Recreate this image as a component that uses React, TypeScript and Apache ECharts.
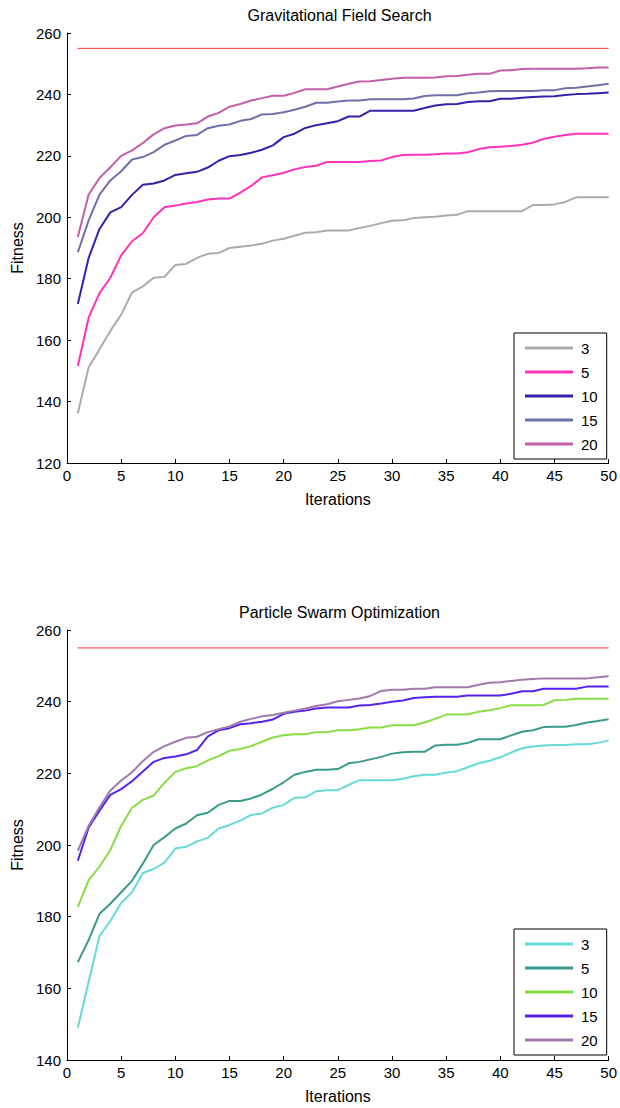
import React, { useEffect, useRef } from "react";
import * as echarts from "echarts";

const FONT = "'Liberation Sans', Arial, sans-serif";

const swarmSizes = ["3", "5", "10", "15", "20"];
const optimum = 255;
const iterations = Array.from({ length: 50 }, (_, i) => i + 1);

// Gravitational Field Search
const gfs3 = [136.2, 151.2, 157, 163, 168.3, 175.5, 177.5, 180.3, 180.6, 184.5, 184.8, 186.8, 188.1, 188.4, 190, 190.4, 190.8, 191.4, 192.4, 193, 194, 195, 195.1, 195.7, 195.7, 195.7, 196.5, 197.2, 198.1, 198.9, 199, 199.8, 200, 200.2, 200.6, 200.8, 202, 202, 202, 202, 202, 202, 204, 204, 204.2, 205, 206.5, 206.5, 206.5, 206.5];
const gfs5 = [151.6, 167.4, 175.3, 180.3, 187.6, 192.2, 194.8, 200, 203.3, 203.8, 204.5, 205, 205.8, 206.1, 206.1, 208, 210.2, 213, 213.7, 214.5, 215.6, 216.4, 216.8, 218, 218, 218, 218, 218.3, 218.5, 219.6, 220.3, 220.4, 220.4, 220.5, 220.8, 220.8, 221.2, 222.2, 222.8, 223, 223.2, 223.6, 224.3, 225.5, 226.2, 226.8, 227.2, 227.2, 227.2, 227.2];
const gfs10 = [171.8, 186.8, 196.2, 201.6, 203.3, 207.3, 210.6, 211, 212, 213.8, 214.3, 214.8, 216.2, 218.4, 219.9, 220.3, 221, 222, 223.4, 226.1, 227.2, 229.1, 230, 230.6, 231.3, 232.8, 232.8, 234.7, 234.7, 234.7, 234.7, 234.7, 235.6, 236.4, 236.8, 236.9, 237.5, 237.8, 237.8, 238.6, 238.6, 238.9, 239.2, 239.3, 239.4, 239.8, 240.1, 240.2, 240.4, 240.6];
const gfs15 = [188.6, 199, 207.4, 212, 215, 218.8, 219.6, 221.2, 223.6, 225, 226.5, 226.8, 229, 229.8, 230.2, 231.4, 232, 233.5, 233.6, 234.2, 235, 236, 237.3, 237.3, 237.7, 238, 238, 238.4, 238.4, 238.4, 238.4, 238.7, 239.5, 239.7, 239.7, 239.7, 240.4, 240.6, 241, 241.1, 241.1, 241.1, 241.1, 241.4, 241.4, 242, 242.2, 242.6, 243, 243.5];
const gfs20 = [193.6, 207.4, 212.8, 216.3, 220, 221.8, 224.2, 227, 229, 229.9, 230.2, 230.6, 232.8, 234, 236, 236.9, 238, 238.8, 239.6, 239.6, 240.5, 241.7, 241.7, 241.7, 242.6, 243.5, 244.2, 244.3, 244.7, 245.1, 245.4, 245.4, 245.4, 245.5, 245.9, 246, 246.4, 246.7, 246.7, 247.8, 247.9, 248.3, 248.4, 248.4, 248.4, 248.4, 248.4, 248.5, 248.8, 248.8];

// Particle Swarm Optimization
const pso3 = [149, 161.9, 174.6, 178.8, 183.8, 186.8, 192.2, 193.3, 195.1, 199, 199.5, 201, 202, 204.6, 205.6, 206.8, 208.4, 208.8, 210.4, 211.2, 213.2, 213.3, 215, 215.3, 215.3, 216.8, 218.1, 218.1, 218.1, 218.1, 218.5, 219.2, 219.6, 219.6, 220.2, 220.6, 221.7, 222.8, 223.5, 224.5, 225.8, 227, 227.5, 227.8, 227.9, 227.9, 228.1, 228.1, 228.5, 229.2];
const pso5 = [167.3, 173.5, 180.8, 183.6, 186.8, 190, 194.8, 200, 202.2, 204.6, 206, 208.3, 209, 211.2, 212.3, 212.3, 213, 214.1, 215.7, 217.5, 219.6, 220.4, 221, 221, 221.2, 222.8, 223.2, 223.9, 224.6, 225.5, 225.9, 226, 226, 227.8, 228, 228, 228.5, 229.5, 229.5, 229.5, 230.6, 231.6, 232, 232.9, 233, 233, 233.5, 234.2, 234.6, 235.1];
const pso10 = [182.7, 190.2, 194, 198.6, 205.3, 210.4, 212.6, 213.8, 217.4, 220.4, 221.4, 222, 223.6, 224.8, 226.3, 226.8, 227.6, 228.8, 230, 230.6, 230.9, 230.9, 231.5, 231.5, 232, 232, 232.3, 232.8, 232.8, 233.4, 233.4, 233.4, 234.2, 235.2, 236.4, 236.4, 236.5, 237.2, 237.6, 238.2, 239, 239, 239, 239.1, 240.4, 240.5, 240.8, 240.8, 240.8, 240.8];
const pso15 = [195.6, 204.9, 209.6, 214, 215.6, 217.8, 220.5, 223.2, 224.3, 224.7, 225.3, 226.5, 230.3, 232, 232.6, 233.7, 234, 234.4, 235, 236.6, 237.2, 237.5, 238.1, 238.4, 238.4, 238.4, 238.9, 239.1, 239.5, 240, 240.3, 241, 241.2, 241.4, 241.4, 241.4, 241.7, 241.7, 241.7, 241.7, 242.2, 242.9, 242.9, 243.6, 243.6, 243.6, 243.6, 244.2, 244.2, 244.2];
const pso20 = [198.4, 205.4, 210.5, 215.2, 218, 220.3, 223.4, 226, 227.6, 228.8, 229.9, 230.2, 231.5, 232.3, 233.1, 234.4, 235.2, 235.9, 236.3, 236.9, 237.5, 238.1, 238.8, 239.3, 240.1, 240.5, 240.9, 241.6, 243, 243.3, 243.3, 243.6, 243.6, 244, 244, 244, 244, 244.7, 245.3, 245.4, 245.8, 246.1, 246.3, 246.5, 246.5, 246.5, 246.5, 246.5, 246.8, 247.1];

const gfsSeries = [gfs3, gfs5, gfs10, gfs15, gfs20];
const psoSeries = [pso3, pso5, pso10, pso15, pso20];
const gfsColors = ["#A9ADA7", "#FF33BB", "#3322AA", "#6F70AA", "#C45DAA"];
const psoColors = ["#66D9D9", "#3A9A8C", "#88DD44", "#5522EE", "#A07AAA"];

const panels = [
  { key: "GFS", title: "Gravitational Field Search", yMin: 120, data: gfsSeries, colors: gfsColors, top: 33, titleTop: 7, legendTop: 333 },
  { key: "PSO", title: "Particle Swarm Optimization", yMin: 140, data: psoSeries, colors: psoColors, top: 630, titleTop: 604, legendTop: 929 },
];

export default function App() {
  const ref = useRef<HTMLDivElement>(null);
  useEffect(() => {
    const chart = echarts.init(ref.current!, null, { renderer: "svg" });
    const grids: any[] = [];
    const xAxes: any[] = [];
    const yAxes: any[] = [];
    const series: any[] = [];
    const legends: any[] = [];
    const titles: any[] = [];
    panels.forEach((p, gi) => {
      grids.push({ left: 67, top: p.top, width: 545, height: 430 });
      titles.push({
        text: p.title,
        left: 339.5,
        top: p.titleTop,
        padding: 0,
        textAlign: "center",
        textStyle: { fontSize: 16, fontWeight: "normal", color: "#000", fontFamily: FONT },
      });
      xAxes.push({
        gridIndex: gi,
        type: "value",
        min: 0,
        max: 50,
        interval: 5,
        name: "Iterations",
        nameLocation: "middle",
        nameGap: 28,
        nameTextStyle: { fontSize: 16, color: "#000", fontFamily: FONT },
        axisLine: { onZero: false, lineStyle: { color: "#000", width: 1 } },
        axisTick: { inside: true, length: 4, lineStyle: { color: "#000" } },
        axisLabel: { color: "#000", fontSize: 15, margin: 5, fontFamily: FONT },
        splitLine: { show: false },
      });
      yAxes.push({
        gridIndex: gi,
        type: "value",
        min: p.yMin,
        max: 260,
        interval: 20,
        name: "Fitness",
        nameLocation: "middle",
        nameRotate: 90,
        nameGap: 41,
        nameTextStyle: { fontSize: 16, color: "#000", fontFamily: FONT },
        axisLine: { show: true, onZero: false, lineStyle: { color: "#000", width: 1 } },
        axisTick: { show: true, inside: true, length: 4, lineStyle: { color: "#000" } },
        axisLabel: { color: "#000", fontSize: 15, margin: 6, fontFamily: FONT },
        splitLine: { show: false },
      });
      series.push({
        name: p.key + "-opt",
        type: "line",
        xAxisIndex: gi,
        yAxisIndex: gi,
        symbol: "none",
        silent: true,
        lineStyle: { color: "#FF3030", width: 1 },
        data: [[iterations[0], optimum], [iterations[iterations.length - 1], optimum]],
      });
      p.data.forEach((vals, si) => {
        series.push({
          name: p.key + "-" + swarmSizes[si],
          type: "line",
          xAxisIndex: gi,
          yAxisIndex: gi,
          symbol: "none",
          showSymbol: false,
          lineStyle: { color: p.colors[si], width: 2 },
          itemStyle: { color: p.colors[si] },
          data: iterations.map((x, i) => [x, vals[i]]),
        });
      });
      legends.push({
        left: 514,
        top: p.legendTop,
        orient: "vertical",
        data: swarmSizes.map((s) => p.key + "-" + s),
        formatter: (n: string) => n.split("-")[1],
        icon: "rect",
        itemWidth: 48,
        itemHeight: 3,
        itemGap: 6,
        padding: [6, 9, 6, 11],
        borderColor: "#000",
        borderWidth: 1,
        backgroundColor: "#fff",
        selectedMode: false,
        textStyle: { fontSize: 15, color: "#000", fontFamily: FONT, padding: [0, 0, 0, 3], lineHeight: 18 },
      });
    });
    chart.setOption({
      animation: false,
      backgroundColor: "#fff",
      title: titles,
      grid: grids,
      xAxis: xAxes,
      yAxis: yAxes,
      legend: legends,
      series,
    });
    return () => chart.dispose();
  }, []);
  return (
    <div
      ref={ref}
      style={{ position: "absolute", left: 0, top: 0, width: 620, height: 1108, background: "#fff" }}
    />
  );
}
